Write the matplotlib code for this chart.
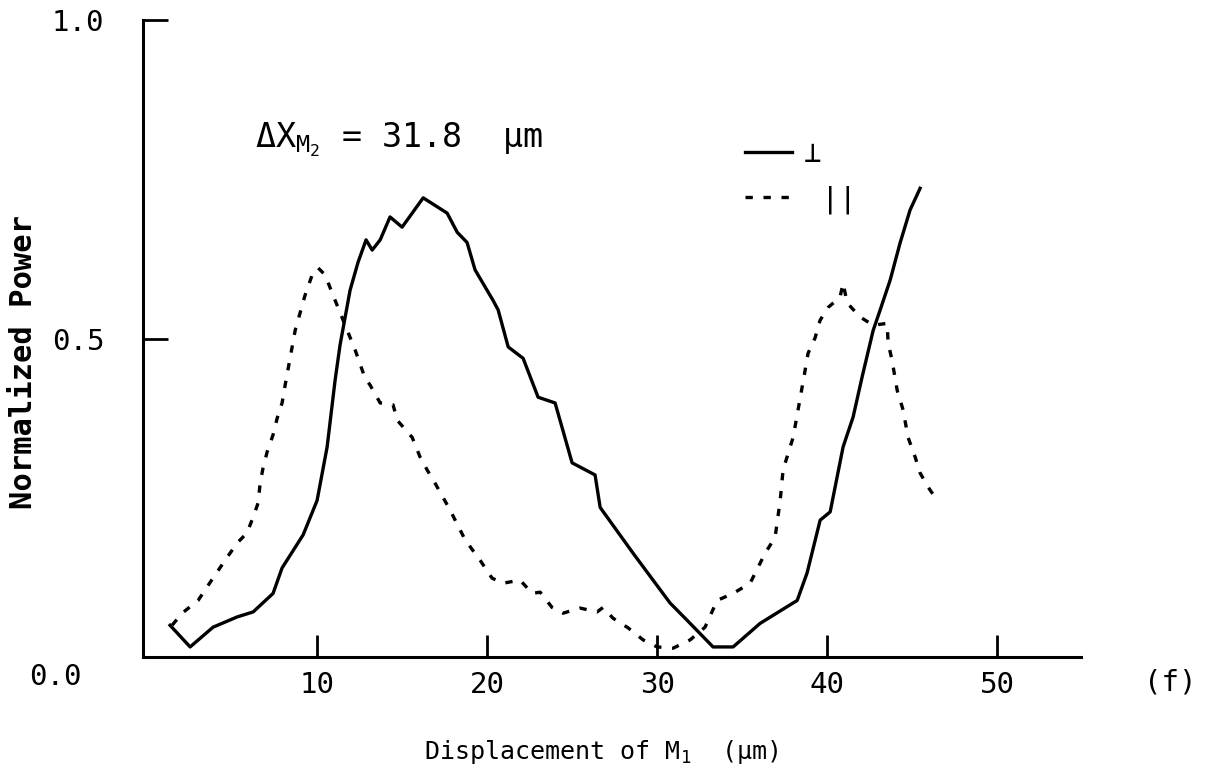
import numpy as np
import matplotlib.pyplot as plt

# perpendicular polarisation (solid line)
x_perp = [1.35, 2.53, 3.88, 5.29, 6.24, 7.41, 7.94, 9.18, 10.0, 10.59, 11.06, 11.35,
          11.94, 12.41, 12.88, 13.24, 13.71, 14.29, 15.0, 16.24, 17.65, 18.24, 18.82,
          19.29, 20.35, 20.65, 21.24, 22.12, 23.0, 24.0, 25.0, 26.35, 26.65, 28.59,
          30.76, 31.76, 33.29, 34.47, 36.06, 38.24, 38.82, 39.59, 40.18, 40.94, 41.53,
          42.06, 42.71, 43.12, 43.71, 44.29, 44.88, 45.47]
p_perp = [0.050, 0.016, 0.047, 0.063, 0.071, 0.100, 0.140, 0.192, 0.246, 0.330, 0.435, 0.490,
          0.576, 0.620, 0.655, 0.639, 0.655, 0.691, 0.675, 0.721, 0.697, 0.667, 0.651,
          0.608, 0.560, 0.545, 0.487, 0.469, 0.408, 0.399, 0.305, 0.286, 0.235, 0.163,
          0.085, 0.058, 0.016, 0.016, 0.053, 0.089, 0.132, 0.215, 0.228, 0.330, 0.377,
          0.440, 0.513, 0.545, 0.592, 0.650, 0.702, 0.736]

# parallel polarisation (dashed line)
x_par = [1.47, 2.06, 3.0, 4.0, 4.59, 5.29, 5.88, 6.24, 6.53, 6.65, 6.82, 7.06, 7.41, 7.65,
         7.94, 8.12, 8.71, 9.29, 9.71, 10.06, 10.47, 10.94, 11.53, 12.24, 12.82, 13.12,
         13.71, 14.47, 14.71, 15.59, 16.06, 16.47, 16.94, 17.82, 18.71, 19.59, 20.29,
         20.94, 21.94, 22.65, 23.12, 23.82, 24.47, 25.47, 26.47, 26.82, 27.41, 28.29,
         29.18, 30.0, 30.94, 31.94, 32.82, 33.53, 34.47, 35.47, 36.35, 36.94, 37.24,
         37.41, 38.0, 38.29, 38.71, 38.88, 39.29, 39.59, 40.06, 40.76, 40.94, 41.18,
         41.94, 42.71, 43.53, 43.59, 43.82, 44.12, 44.47, 44.76, 45.18, 45.47, 45.94, 46.47]
p_par = [0.050, 0.069, 0.089, 0.129, 0.152, 0.179, 0.195, 0.220, 0.242, 0.273, 0.297, 0.322,
         0.349, 0.375, 0.399, 0.427, 0.513, 0.568, 0.600, 0.611, 0.600, 0.568, 0.529,
         0.482, 0.438, 0.427, 0.399, 0.396, 0.372, 0.345, 0.314, 0.294, 0.273, 0.231,
         0.184, 0.152, 0.124, 0.116, 0.121, 0.100, 0.102, 0.078, 0.069, 0.077, 0.071,
         0.078, 0.061, 0.046, 0.027, 0.016, 0.014, 0.027, 0.047, 0.089, 0.100, 0.116,
         0.163, 0.188, 0.246, 0.294, 0.345, 0.388, 0.451, 0.477, 0.501, 0.529, 0.549,
         0.565, 0.587, 0.556, 0.534, 0.521, 0.524, 0.493, 0.466, 0.419, 0.388, 0.345,
         0.314, 0.289, 0.267, 0.246]

xticks = [10, 20, 30, 40, 50]
yticks = [0.5, 1.0]
ytick_labels = ["0.5", "1.0"]

plt.rcParams['font.family'] = ['DejaVu Sans Mono', 'DejaVu Sans']
plt.rcParams['mathtext.fontset'] = 'custom'
plt.rcParams['mathtext.rm'] = 'DejaVu Sans Mono'
plt.rcParams['mathtext.it'] = 'DejaVu Sans Mono'

fig = plt.figure(figsize=(12.12, 7.74), dpi=100)
ax = fig.add_axes([0.118, 0.151, 0.774, 0.823])

ax.plot(x_perp, p_perp, color='k', lw=2.4, label='⊥')
ax.plot(x_par, p_par, color='k', lw=2.4, ls=(0, (2.2, 3.2)), label=' ||')

ax.set_xlim(-0.24, 54.94)
ax.set_ylim(0, 1.0)
ax.spines['top'].set_visible(False)
ax.spines['right'].set_visible(False)
ax.spines['left'].set_linewidth(2.2)
ax.spines['bottom'].set_linewidth(2.2)

ax.set_xticks(xticks)
ax.set_yticks(yticks, labels=ytick_labels)
ax.tick_params(axis='x', direction='in', length=16, width=2, labelsize=21, pad=10)
ax.tick_params(axis='y', direction='in', length=18, width=2, labelsize=21, pad=28)
ax.text(-0.065, -0.009, '0.0', transform=ax.transAxes, ha='right', va='top', fontsize=21)

ax.set_ylabel('Normalized Power', fontsize=22, fontweight='bold')
ax.yaxis.label.set(ha='center', va='center')
ax.yaxis.set_label_coords(-0.127, 0.463)
ax.set_xlabel('Displacement of M$_1$  (μm)', fontsize=18)
ax.xaxis.label.set(ha='center', va='center')
ax.xaxis.set_label_coords(0.488, -0.149)

ax.text(0.119, 0.812, r'ΔX$_{\mathrm{M}_2}$ = 31.8  μm', transform=ax.transAxes,
        ha='left', va='center', fontsize=24)

ax.legend(loc='upper left', bbox_to_anchor=(0.642, 0.812), frameon=False,
          handlelength=1.6, handletextpad=0.4, borderaxespad=0, borderpad=0,
          labelspacing=0.6, fontsize=21)

fig.text(1170 / 1212, 1 - 682 / 774, '(f)', ha='center', va='center', fontsize=21)

fig.savefig('out.png', dpi=100)
